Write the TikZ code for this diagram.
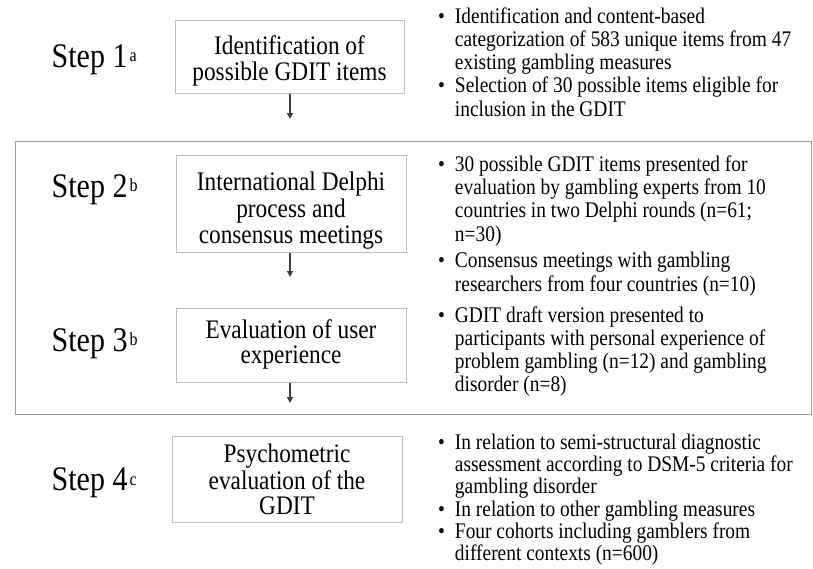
\documentclass[tikz,border=0pt]{standalone}
\usepackage{fontspec}
\setmainfont{Liberation Serif}
\usepackage{graphicx}
\usetikzlibrary{arrows.meta}
\definecolor{boxgray}{HTML}{BDBDBD}
\definecolor{framegray}{HTML}{9A9A9A}
\definecolor{arrgray}{HTML}{404040}
\newcommand\vst{1.15}
\newcommand\steplab[2]{\scalebox{1}[\vst]{\fontsize{30}{30}\selectfont Step #1\hspace{2pt}\raisebox{4.5pt}{\fontsize{16}{16}\selectfont #2}}}
\newcommand\boxtext[3]{\raisebox{#2}[\height][\depth]{\scalebox{1}[\vst]{\fontsize{23.3}{#1}\selectfont\begin{tabular}{@{}c@{}}#3\end{tabular}}}}
\newcommand\bul[2]{\scalebox{1}[\vst]{\fontsize{19.4}{#1}\selectfont\begin{tabular}[t]{@{}l@{\hspace{10pt}}l@{}}#2\end{tabular}}}
\begin{document}
\begin{tikzpicture}[x=1pt,y=1pt,
  stepbox/.style={draw=boxgray, line width=1pt, fill=white, inner sep=0pt, align=center},
  frame/.style={draw=framegray, line width=1pt, inner sep=0pt},
  steplabel/.style={anchor=base west, inner sep=0pt},
  bullets/.style={anchor=base west, inner sep=0pt},
  arr/.style={draw=arrgray, line width=1.4pt, -{Triangle[length=6pt,width=6pt]}}]
\useasboundingbox (0,0) rectangle (813,-568);

% group frame for steps 2 and 3
\node[frame, minimum width=796pt, minimum height=273pt] (grp) at (413,-277.5) {};

% boxes
\node[stepbox, minimum width=229pt, minimum height=73pt] (b1) at (289.5,-56.5)
  {\boxtext{19.6}{-5pt}{Identification of\\possible GDIT items}};
\node[stepbox, minimum width=230pt, minimum height=97pt] (b2) at (291,-203.5)
  {\boxtext{22.6}{-8pt}{International Delphi\\process and\\consensus meetings}};
\node[stepbox, minimum width=230pt, minimum height=74pt] (b3) at (291,-345)
  {\boxtext{19.6}{0pt}{Evaluation of user\\experience}};
\node[stepbox, minimum width=230pt, minimum height=86pt] (b4) at (287,-479)
  {\boxtext{21.7}{-4pt}{Psychometric\\evaluation of the\\GDIT}};

% arrows
\coordinate (a1) at (290,-119);
\coordinate (a2) at (290,-277);
\coordinate (a3) at (290,-403);
\draw[arr] (b1.south -| a1) -- (a1);
\draw[arr] (b2.south -| a2) -- (a2);
\draw[arr] (b3.south -| a3) -- (a3);

% step labels
\node[steplabel] (s1) at (51.5,-67) {\steplab{1}{a}};
\node[steplabel] (s2) at (51.5,-197) {\steplab{2}{b}};
\node[steplabel] (s3) at (51.5,-351) {\steplab{3}{b}};
\node[steplabel] (s4) at (51.5,-490.4) {\steplab{4}{c}};

% bullet texts
\node[bullets] (t1) at (438,-23) {\bul{20.26}{%
\textbullet & Identification and content-based\\
 & categorization of 583 unique items from 47\\
 & existing gambling measures\\
\textbullet & Selection of 30 possible items eligible for\\
 & inclusion in the GDIT}};
\node[bullets] (t2) at (438,-171) {\bul{20.43}{%
\textbullet & 30 possible GDIT items presented for\\
 & evaluation by gambling experts from 10\\
 & countries in two Delphi rounds (n=61;\\
 & n=30)\\[2.6pt]
\textbullet & Consensus meetings with gambling\\
 & researchers from four countries (n=10)}};
\node[bullets] (t3) at (438,-322.5) {\bul{19.9}{%
\textbullet & GDIT draft version presented to\\
 & participants with personal experience of\\
 & problem gambling (n=12) and gambling\\
 & disorder (n=8)}};
\node[bullets] (t4) at (438,-449) {\bul{19.4}{%
\textbullet & In relation to semi-structural diagnostic\\
 & assessment according to DSM-5 criteria for\\
 & gambling disorder\\
\textbullet & In relation to other gambling measures\\
\textbullet & Four cohorts including gamblers from\\
 & different contexts (n=600)}};
\end{tikzpicture}
\end{document}
